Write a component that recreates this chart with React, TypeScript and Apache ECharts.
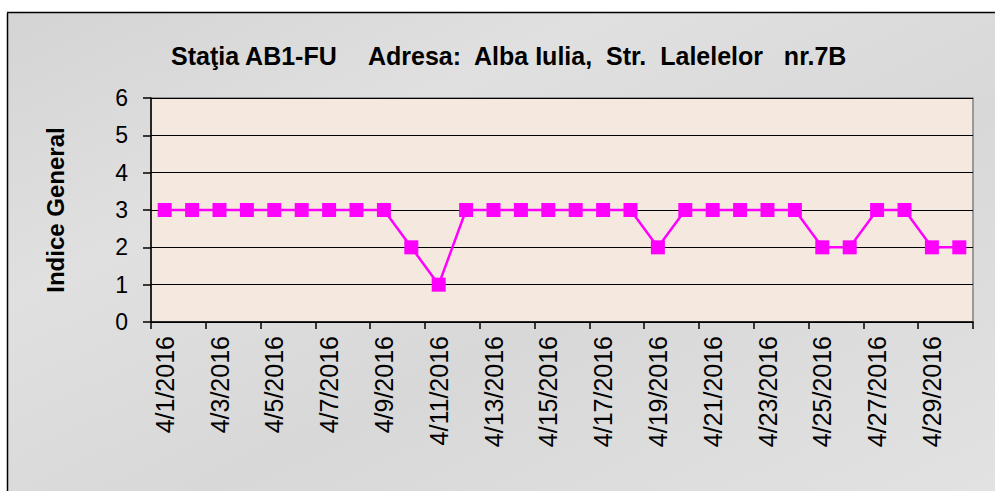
import React, { useEffect, useRef } from "react";
import * as echarts from "echarts";

const days: string[] = [
  "4/1/2016", "4/2/2016", "4/3/2016", "4/4/2016", "4/5/2016", "4/6/2016",
  "4/7/2016", "4/8/2016", "4/9/2016", "4/10/2016", "4/11/2016", "4/12/2016",
  "4/13/2016", "4/14/2016", "4/15/2016", "4/16/2016", "4/17/2016", "4/18/2016",
  "4/19/2016", "4/20/2016", "4/21/2016", "4/22/2016", "4/23/2016", "4/24/2016",
  "4/25/2016", "4/26/2016", "4/27/2016", "4/28/2016", "4/29/2016", "4/30/2016",
];
const indiceGeneral: number[] = [
  3, 3, 3, 3, 3, 3, 3, 3, 3, 2, 1, 3, 3, 3, 3, 3, 3, 3, 2, 3,
  3, 3, 3, 3, 2, 2, 3, 3, 2, 2,
];
const titleStation = "Staţia AB1-FU";
const titleAddress = "Adresa:  Alba Iulia,  Str.  Lalelelor   nr.7B";
const yAxisName = "Indice General";

const FONT = "'Liberation Sans', Arial, sans-serif";

export default function App() {
  const ref = useRef<HTMLDivElement>(null);
  useEffect(() => {
    if (!ref.current) return;
    const chart = echarts.init(ref.current, undefined, { renderer: "svg" });
    chart.setOption({
      animation: false,
      backgroundColor: "#ffffff",
      textStyle: { fontFamily: FONT },
      graphic: [
        {
          type: "rect",
          z: -10,
          silent: true,
          shape: { x: 8, y: 13, width: 987, height: 478 },
          style: {
            fill: new echarts.graphic.LinearGradient(0, 0, 1, 1, [
              { offset: 0, color: "#d4d4d4" },
              { offset: 0.3, color: "#e0e0e0" },
              { offset: 0.6, color: "#d8d8d8" },
              { offset: 1, color: "#e2e2e2" },
            ]),
          },
        },
        {
          type: "line",
          z: -5,
          silent: true,
          shape: { x1: 7.5, y1: 13, x2: 7.5, y2: 491 },
          style: { stroke: "#000", lineWidth: 1.5 },
        },
        {
          type: "line",
          z: -5,
          silent: true,
          shape: { x1: 7, y1: 12.5, x2: 995, y2: 12.5 },
          style: { stroke: "#000", lineWidth: 1.5 },
        },
        {
          type: "text",
          left: 171,
          top: 43,
          style: {
            text: titleStation,
            font: `bold 25px ${FONT}`,
            fill: "#000",
          },
        },
        {
          type: "text",
          left: 368,
          top: 43,
          style: {
            text: titleAddress,
            font: `bold 25px ${FONT}`,
            fill: "#000",
          },
        },
      ],
      grid: {
        left: 151,
        right: 22,
        top: 98,
        bottom: 169,
        show: true,
        backgroundColor: "#f4e8df",
        borderColor: "#808080",
        borderWidth: 1.5,
      },
      xAxis: {
        type: "category",
        data: days,
        boundaryGap: true,
        axisLine: { show: true, lineStyle: { color: "#000", width: 1.5 } },
        axisTick: {
          show: true,
          interval: 1,
          length: 7,
          lineStyle: { color: "#000", width: 1.5 },
        },
        axisLabel: {
          interval: 1,
          rotate: 90,
          margin: 14,
          fontSize: 25,
          color: "#000",
          fontFamily: FONT,
        },
        splitLine: { show: false },
      },
      yAxis: {
        type: "value",
        min: 0,
        max: 6,
        interval: 1,
        name: yAxisName,
        nameLocation: "middle",
        nameGap: 84,
        nameTextStyle: {
          fontSize: 24,
          fontWeight: "bold",
          color: "#000",
          fontFamily: FONT,
        },
        axisLine: { show: true, lineStyle: { color: "#000", width: 1.5 } },
        axisTick: { show: true, length: 8, lineStyle: { color: "#000", width: 1.5 } },
        axisLabel: {
          margin: 23,
          fontSize: 23,
          color: "#000",
          fontFamily: FONT,
        },
        splitLine: { show: true, lineStyle: { color: "#000", width: 1 } },
      },
      series: [
        {
          type: "line",
          data: indiceGeneral,
          symbol: "rect",
          symbolSize: 14,
          lineStyle: { color: "#ff00ff", width: 2.5 },
          itemStyle: { color: "#ff00ff" },
        },
      ],
    });
    return () => chart.dispose();
  }, []);
  return (
    <div
      ref={ref}
      style={{ position: "absolute", left: 0, top: 0, width: 995, height: 491 }}
    />
  );
}
